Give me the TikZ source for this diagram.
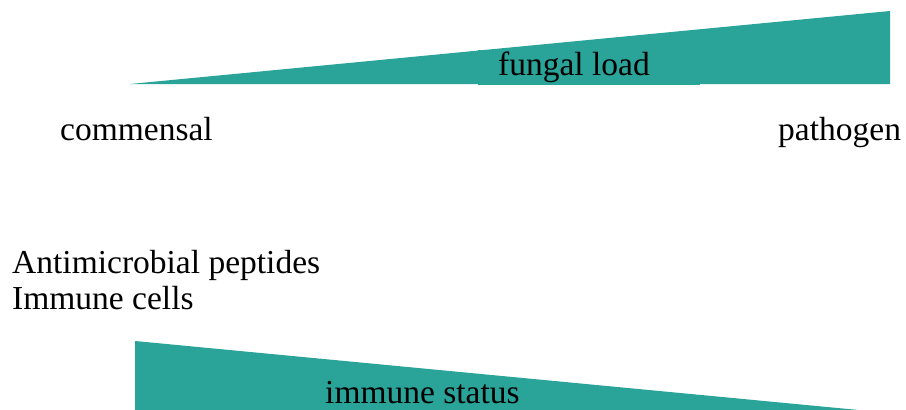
\documentclass[tikz,border=0pt]{standalone}
\usepackage{fontspec}
\setmainfont{Liberation Serif}
\definecolor{teal1}{HTML}{2AA399}
\tikzset{
  wedge/.style={fill=teal1, draw=none},
  lbl/.style={font=\fontsize{33.5}{36}\selectfont, inner sep=0pt, text=black, anchor=base west},
}
\begin{document}
\begin{tikzpicture}[x=1pt,y=-1pt]
\useasboundingbox (0,0) rectangle (906,410);
\clip (0,0) rectangle (906,410);
\fill[wedge] (130,84) -- (890,11) -- (890,84) -- cycle;
\node[fill=teal1, minimum width=222pt, minimum height=35pt, inner sep=0pt, anchor=north west] (flbox) at (478,50) {};
\node[lbl] (fl) at (498,75) {fungal load};
\node[lbl] (com) at (60,140) {commensal};
\node[lbl] (pat) at (778,140) {pathogen};
\node[lbl] (amp) at (12,273) {Antimicrobial peptides};
\node[lbl] (imc) at (12,309) {Immune cells};
\fill[wedge] (135,341) -- (890,413) -- (135,413) -- cycle;
\node[lbl] (is) at (325,403) {immune status};
\end{tikzpicture}
\end{document}
